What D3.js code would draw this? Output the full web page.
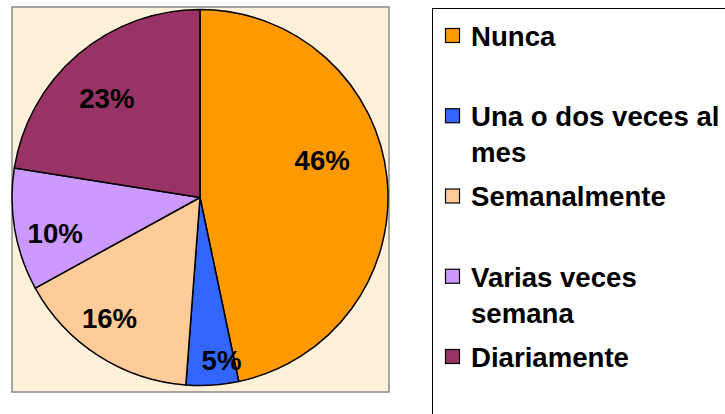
<!DOCTYPE html>
<html>
<head>
<meta charset="utf-8">
<script src="https://cdn.jsdelivr.net/npm/d3@7"></script>
<style>
  html, body { margin: 0; padding: 0; background: #ffffff; }
  svg { display: block; }
  text { font-family: "Liberation Sans", Arial, sans-serif; font-weight: bold; fill: #000; }
</style>
</head>
<body>
<svg id="chart" width="725" height="414"></svg>
<script>
// ---- data ----
const categories = ["Nunca", "Una o dos veces al mes", "Semanalmente", "Varias veces semana", "Diariamente"];
const values = [46.7, 4.5, 15.8, 10.5, 22.5];
const percentLabels = ["46%", "5%", "16%", "10%", "23%"];
const legendLines = [["Nunca"], ["Una o dos veces al", "mes"], ["Semanalmente"], ["Varias veces", "semana"], ["Diariamente"]];
const colors = ["#FF9900", "#3366FF", "#FFCC99", "#CC99FF", "#993366"];

// ---- layout (not data) ----
const W = 725, H = 414;
const plot = { x: 12, y: 7, w: 377, h: 385 };
const cx = 200, cy = 197.5, R = 188;
const labelR = 145;
const labelNudge = [[-22, -22], [12, 18], [-12, -1.5], [-2, 11], [1, 11]];
const fontSize = 27.6;

const svg = d3.select("#chart");

// plot area background
svg.append("rect")
  .attr("x", plot.x).attr("y", plot.y)
  .attr("width", plot.w).attr("height", plot.h)
  .attr("fill", "#FCF0D8")
  .attr("stroke", "#8a8a8a").attr("stroke-width", 1.5);

const pie = d3.pie().sort(null).value(d => d);
const arcs = pie(values);
const arc = d3.arc().innerRadius(0).outerRadius(R);
const labelArc = d3.arc().innerRadius(labelR).outerRadius(labelR);

const g = svg.append("g").attr("transform", `translate(${cx},${cy})`);
g.selectAll("path.slice")
  .data(arcs)
  .join("path")
  .attr("class", "slice")
  .attr("d", arc)
  .attr("fill", (d, i) => colors[i])
  .attr("stroke", "#000")
  .attr("stroke-width", 1.5)
  .attr("stroke-linejoin", "round");

g.selectAll("text.pct")
  .data(arcs)
  .join("text")
  .attr("class", "pct")
  .attr("text-anchor", "middle")
  .attr("font-size", fontSize)
  .attr("x", (d, i) => labelArc.centroid(d)[0] + labelNudge[i][0])
  .attr("y", (d, i) => labelArc.centroid(d)[1] + labelNudge[i][1] + fontSize * 0.36)
  .text((d, i) => percentLabels[i]);

// legend
const legend = svg.append("g");
legend.append("rect")
  .attr("x", 432.5).attr("y", 8.5)
  .attr("width", 400).attr("height", 500)
  .attr("fill", "#ffffff")
  .attr("stroke", "#000").attr("stroke-width", 1);

const rowY = d3.scalePoint().domain(categories).range([36, 357]);
const lineGap = 36;
const items = legend.selectAll("g.item")
  .data(categories)
  .join("g")
  .attr("class", "item")
  .attr("transform", d => `translate(0,${rowY(d)})`);

items.append("rect")
  .attr("x", 445.5).attr("y", -7.5)
  .attr("width", 14).attr("height", 14)
  .attr("fill", (d, i) => colors[i])
  .attr("stroke", "#000").attr("stroke-width", 1.2);

items.each(function(d, i) {
  const t = d3.select(this);
  legendLines[i].forEach((line, j) => {
    t.append("text")
      .attr("x", 471)
      .attr("y", j * lineGap + fontSize * 0.36)
      .attr("font-size", fontSize)
      .text(line);
  });
});
</script>
</body>
</html>
